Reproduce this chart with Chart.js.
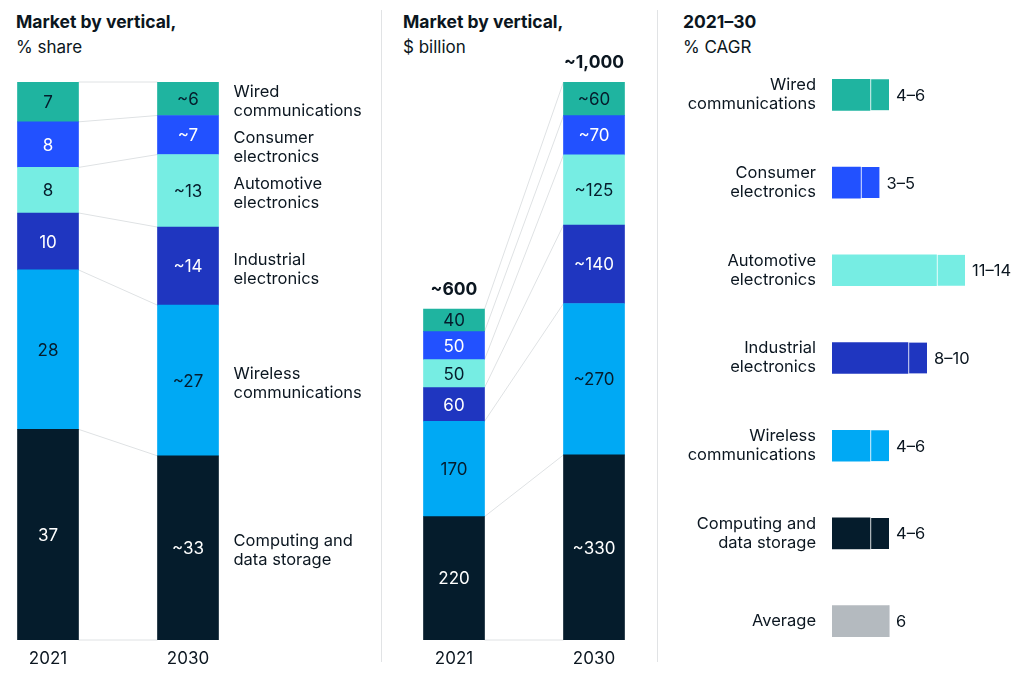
<!DOCTYPE html>
<html>
<head>
    <title>Market by vertical</title>
    <script src="https://cdnjs.cloudflare.com/ajax/libs/Chart.js/4.4.0/chart.umd.min.js"></script>
    <style>
        html, body { margin: 0; padding: 0; background: #fff; overflow: hidden; }
        body { width: 1024px; height: 673px; position: relative; font-family: Inter, "Liberation Sans", sans-serif; color: #0b1620; }
        .box { position: absolute; }
        .title { position: absolute; font-size: 17.5px; font-weight: 700; line-height: 20px; white-space: nowrap; }
        .sub { position: absolute; font-size: 17px; line-height: 20px; white-space: nowrap; }
        .sep { position: absolute; top: 10px; width: 1px; height: 652px; background: #e1e3e5; }
    </style>
</head>
<body>
    <div class="title" style="left:16px; top:12px;">Market by vertical,</div>
    <div class="sub" style="left:16px; top:37px;">% share</div>
    <div class="title" style="left:403px; top:12px;">Market by vertical,</div>
    <div class="sub" style="left:403px; top:37px;">$ billion</div>
    <div class="title" style="left:683px; top:12px;">2021–30</div>
    <div class="sub" style="left:683px; top:37px;">% CAGR</div>
    <div class="sep" style="left:381px;"></div>
    <div class="sep" style="left:657px;"></div>

    <div class="box" style="left:-22px; top:0; width:420px; height:673px;"><canvas id="shareChart"></canvas></div>
    <div class="box" style="left:384px; top:0; width:280px; height:673px;"><canvas id="valueChart"></canvas></div>
    <div class="box" style="left:660px; top:0; width:364px; height:673px;"><canvas id="cagrChart"></canvas></div>

    <script>
        // Data
        const years = ['2021', '2030'];
        const verticals = [
            ['Wired', 'communications'],
            ['Consumer', 'electronics'],
            ['Automotive', 'electronics'],
            ['Industrial', 'electronics'],
            ['Wireless', 'communications'],
            ['Computing and', 'data storage']
        ];
        const share2021 = [7, 8, 8, 10, 28, 37];
        const share2030 = [6, 7, 13, 14, 27, 33];
        const shareText2021 = ['7', '8', '8', '10', '28', '37'];
        const shareText2030 = ['~6', '~7', '~13', '~14', '~27', '~33'];
        const value2021 = [40, 50, 50, 60, 170, 220];
        const value2030 = [60, 70, 125, 140, 270, 330];
        const valueText2021 = ['40', '50', '50', '60', '170', '220'];
        const valueText2030 = ['~60', '~70', '~125', '~140', '~270', '~330'];
        const totalText = ['~600', '~1,000'];
        const cagrCategories = [...verticals, 'Average'];
        const cagrLow = [4, 3, 11, 8, 4, 4, 6];
        const cagrHigh = [6, 5, 14, 10, 6, 6, 6];
        const cagrText = ['4–6', '3–5', '11–14', '8–10', '4–6', '4–6', '6'];

        // Styles
        const colors = ['#1fb4a0', '#2251ff', '#76ede3', '#1f36c0', '#00a9f4', '#051c2c'];
        const textColors = ['#051c2c', '#ffffff', '#051c2c', '#ffffff', '#051c2c', '#ffffff'];
        const avgColor = '#b4babf';
        const ink = '#0b1620';
        const font = 'Inter, "Liberation Sans", sans-serif';
        Chart.defaults.font.family = font;
        Chart.defaults.color = ink;

        const sum = arr => arr.reduce((a, b) => a + b, 0);
        const total2021 = sum(share2021);
        const total2030 = sum(share2030);

        // stacked datasets, bottom first
        function stackSets(a, b, ta, tb) {
            return verticals.map((v, i) => ({
                label: v.join(' '),
                data: [a[i], b[i]],
                texts: [ta[i], tb[i]],
                textColor: textColors[i],
                backgroundColor: colors[i],
                barThickness: 61,
                borderWidth: 0
            })).reverse();
        }

        // segment labels + links between the two bars
        const barDecor = {
            id: 'barDecor',
            beforeDatasetsDraw(chart) {
                const ctx = chart.ctx;
                ctx.save();
                ctx.strokeStyle = '#dfe2e4';
                ctx.lineWidth = 1;
                chart.data.datasets.forEach((ds, i) => {
                    const [a, b] = chart.getDatasetMeta(i).data;
                    ctx.beginPath();
                    ctx.moveTo(a.x + a.width / 2, a.y);
                    ctx.lineTo(b.x - b.width / 2, b.y);
                    if (i === 0) {
                        ctx.moveTo(a.x + a.width / 2, a.base);
                        ctx.lineTo(b.x - b.width / 2, b.base);
                    }
                    ctx.stroke();
                });
                ctx.restore();
            },
            afterDatasetsDraw(chart, args, opts) {
                const ctx = chart.ctx;
                ctx.save();
                ctx.font = '17px ' + font;
                ctx.textAlign = 'center';
                ctx.textBaseline = 'middle';
                chart.data.datasets.forEach((ds, i) => {
                    chart.getDatasetMeta(i).data.forEach((el, j) => {
                        ctx.fillStyle = ds.textColor;
                        ctx.fillText(ds.texts[j], el.x, (el.y + el.base) / 2 + 1);
                    });
                });
                // totals above bars
                if (opts.totals) {
                    const top = chart.getDatasetMeta(chart.data.datasets.length - 1).data;
                    ctx.font = 'bold 17.5px ' + font;
                    ctx.fillStyle = ink;
                    top.forEach((el, j) => ctx.fillText(opts.totals[j], el.x, el.y - 19));
                }
                // vertical names right of the 2030 bar
                if (opts.names) {
                    ctx.font = '16.5px ' + font;
                    ctx.textAlign = 'left';
                    ctx.fillStyle = ink;
                    let prev = -Infinity;
                    for (let k = chart.data.datasets.length - 1; k >= 0; k--) {
                        const el = chart.getDatasetMeta(k).data[1];
                        const idx = chart.data.datasets.length - 1 - k;
                        let cy = Math.max((el.y + el.base) / 2 + 3, prev + 46);
                        prev = cy;
                        const lines = verticals[idx];
                        lines.forEach((t, n) => {
                            ctx.fillText(t, el.x + el.width / 2 + 15, cy + (n - (lines.length - 1) / 2) * 19);
                        });
                    }
                }
                ctx.restore();
            }
        };

        const xAxis = {
            grid: { display: false, drawTicks: false },
            border: { display: false },
            ticks: { padding: 9, font: { size: 17 }, color: ink },
            afterFit(scale) { scale.height = 33; }
        };

        // Left: % share
        new Chart(document.getElementById('shareChart'), {
            type: 'bar',
            data: {
                labels: years,
                datasets: stackSets(
                    share2021.map(v => v / total2021 * 100),
                    share2030.map(v => v / total2030 * 100),
                    shareText2021, shareText2030)
            },
            options: {
                responsive: true,
                maintainAspectRatio: false,
                animation: false,
                layout: { padding: { top: 82, right: 140, bottom: 0, left: 0 } },
                scales: {
                    x: { stacked: true, ...xAxis },
                    y: { stacked: true, display: false, min: 0, max: 100 }
                },
                plugins: {
                    legend: { display: false },
                    tooltip: { enabled: false },
                    barDecor: { names: true }
                }
            },
            plugins: [barDecor]
        });

        // Middle: $ billion
        new Chart(document.getElementById('valueChart'), {
            type: 'bar',
            data: {
                labels: years,
                datasets: stackSets(value2021, value2030, valueText2021, valueText2030)
            },
            options: {
                responsive: true,
                maintainAspectRatio: false,
                animation: false,
                layout: { padding: { top: 82, right: 0, bottom: 0, left: 0 } },
                scales: {
                    x: { stacked: true, ...xAxis },
                    y: { stacked: true, display: false, min: 0, max: sum(value2030) }
                },
                plugins: {
                    legend: { display: false },
                    tooltip: { enabled: false },
                    barDecor: { totals: totalText }
                }
            },
            plugins: [barDecor]
        });

        // Right: CAGR ranges
        const cagrColors = [...colors, avgColor];
        const rangeLabels = {
            id: 'rangeLabels',
            afterDatasetsDraw(chart) {
                const ctx = chart.ctx;
                ctx.save();
                ctx.font = '16.5px ' + font;
                ctx.fillStyle = ink;
                ctx.textAlign = 'left';
                ctx.textBaseline = 'middle';
                chart.getDatasetMeta(1).data.forEach((el, i) => {
                    ctx.fillText(cagrText[i], el.x + 7, el.y + 1);
                });
                ctx.restore();
            }
        };

        new Chart(document.getElementById('cagrChart'), {
            type: 'bar',
            data: {
                labels: cagrCategories,
                datasets: [
                    {
                        label: 'low',
                        data: cagrLow,
                        backgroundColor: cagrColors,
                        barThickness: 31,
                        borderWidth: 0
                    },
                    {
                        label: 'range',
                        data: cagrHigh.map((h, i) => h - cagrLow[i]),
                        backgroundColor: cagrColors,
                        barThickness: 31,
                        borderColor: '#ffffff',
                        borderWidth: { left: 1.5, right: 0, top: 0, bottom: 0 },
                        borderSkipped: false
                    }
                ]
            },
            options: {
                indexAxis: 'y',
                responsive: true,
                maintainAspectRatio: false,
                animation: false,
                layout: { padding: { top: 51, right: 2, bottom: 8, left: 0 } },
                scales: {
                    x: { stacked: true, display: false, min: 0, max: 20 },
                    y: {
                        stacked: true,
                        grid: { display: false, drawTicks: false },
                        border: { display: false },
                        ticks: { padding: 16, font: { size: 16.5, lineHeight: 1.15 }, color: ink },
                        afterFit(scale) {
                            scale.width = 172;
                            scale.paddingTop = 0;
                            scale.paddingBottom = 0;
                        }
                    }
                },
                plugins: {
                    legend: { display: false },
                    tooltip: { enabled: false }
                }
            },
            plugins: [rangeLabels]
        });
    </script>
</body>
</html>
